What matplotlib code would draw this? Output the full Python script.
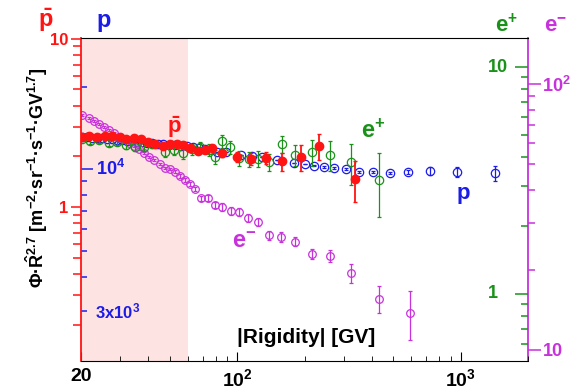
import matplotlib
matplotlib.use("Agg")
import matplotlib.pyplot as plt
from matplotlib.ticker import FixedLocator, NullFormatter

plt.rcParams['font.family'] = ['Liberation Sans', 'DejaVu Sans']
plt.rcParams['font.weight'] = 'bold'
plt.rcParams['mathtext.fontset'] = 'custom'
plt.rcParams['mathtext.rm'] = 'Liberation Sans:bold'
plt.rcParams['mathtext.it'] = 'Liberation Sans:bold'
plt.rcParams['mathtext.bf'] = 'Liberation Sans:bold'

RED = '#ff1414'
BLUE = '#1c1ce8'
GREEN = '#1a921a'
MAG = '#c832dc'
PINK = '#fde3e1'

# antiprotons (left axis)
pbar_R = [20.3, 21.7, 23.5, 25.6, 27.5, 29.8, 31.8, 34.5, 37.1, 39.9, 42.9, 46.6, 50.1, 53.8,
          57.3, 61.5, 66.8, 71.9, 77.3, 85.7, 100, 115.5, 135, 159, 192, 233, 338]
pbar_val = [2.60, 2.64, 2.60, 2.64, 2.64, 2.60, 2.53, 2.57, 2.53, 2.43, 2.37, 2.30, 2.37, 2.37,
            2.33, 2.24, 2.15, 2.18, 2.24, 2.09, 1.98, 1.93, 1.95, 1.875, 1.98, 2.30, 1.47]
pbar_err = [0.04, 0.04, 0.04, 0.04, 0.04, 0.05, 0.05, 0.05, 0.05, 0.05, 0.06, 0.06, 0.06, 0.07,
            0.07, 0.07, 0.08, 0.08, 0.08, 0.10, 0.13, 0.15, 0.16, 0.23, 0.35, 0.40, 0.40]

# protons (inner left axis)
p_R = [20.2, 21.2, 22.4, 23.5, 24.8, 26.1, 27.5, 29.0, 30.5, 32.1, 33.8, 35.6, 37.5, 39.5, 41.6,
       44.2, 46.6, 49.5, 52.7, 56.1, 59.7, 63.5, 67.6, 71.9, 76.5, 81.3, 89.3, 104, 117, 129,
       151, 180, 200, 221, 245, 272, 308, 352, 407, 481, 578, 726, 960, 1420]
p_val = [13150, 13080, 13020, 12990, 12960, 12920, 12870, 12820, 12780, 12720, 12690, 12610,
         12560, 12490, 12450, 12380, 12340, 12270, 12230, 12160, 12120, 12050, 11960, 11850,
         11760, 11560, 11540, 11260, 11170, 11070, 10790, 10520, 10430, 10260, 10170, 10090,
         10000, 9760, 9750, 9670, 9740, 9830, 9750, 9650]
p_err = [30] * 30 + [35, 40, 40, 45, 45, 50, 55, 60, 80, 110, 170, 330, 420, 600]

# positrons (inner right axis)
ep_R = [20.3, 21.9, 24.1, 26.7, 29.0, 31.8, 34.9, 38.3, 41.6, 47.6, 52.1, 57.3, 62.8, 68.2,
        74.9, 79.7, 85.7, 93.1, 102, 113, 124, 138, 159, 182, 217, 261, 324, 429]
ep_val = [4.82, 4.72, 4.77, 4.63, 4.67, 4.53, 4.44, 4.44, 4.58, 4.22, 4.31, 4.18, 4.35, 4.44,
          4.31, 4.01, 4.72, 4.44, 3.97, 3.93, 3.93, 3.81, 4.58, 4.10, 4.22, 4.10, 3.81, 3.18]
ep_err = [0.12, 0.13, 0.14, 0.15, 0.16, 0.17, 0.18, 0.19, 0.20, 0.21, 0.22, 0.23, 0.24, 0.25,
          0.26, 0.28, 0.32, 0.30, 0.30, 0.31, 0.32, 0.33, 0.40, 0.43, 0.55, 0.63, 0.78, 1.0]

# electrons (outer right axis)
em_R = [20.2, 21.7, 22.8, 24.1, 25.3, 26.7, 28.1, 29.6, 31.1, 32.8, 34.5, 36.4, 38.3, 40.3,
        42.5, 45.2, 47.6, 50.1, 52.8, 55.5, 58.5, 61.5, 64.9, 69.0, 74.2, 79.7, 85.7, 94.0,
        102, 112, 124, 139, 157, 182, 217, 261, 324, 429, 590]
em_val = [76.4, 74.5, 72.6, 70.8, 68.9, 67.1, 65.4, 63.2, 62.1, 60.0, 58.5, 57.0, 55.1, 53.2,
          51.8, 50.0, 48.3, 47.9, 46.7, 45.1, 43.6, 42.1, 40.3, 37.2, 37.2, 35.1, 34.5, 33.3,
          33.1, 31.3, 30.3, 27.0, 26.6, 25.5, 22.9, 22.6, 19.5, 15.6, 13.8]
em_err = [0.6] * 20 + [0.7, 0.7, 0.8, 0.8, 0.9, 1.0, 1.1, 1.1, 1.1, 1.1, 1.1, 1.1, 1.1, 1.0,
                       1.0, 1.1, 1.6, 1.8, 2.9]

fig = plt.figure(figsize=(5.8, 3.89), dpi=100)
ax = fig.add_axes([0.1397, 0.0720, 0.7707, 0.8303])
ax_p = ax.twinx()
ax_em = ax.twinx()
ax_ep = ax.twinx()
for z, a in enumerate([ax_p, ax_em, ax_ep, ax]):
    a.set_zorder(z + 1)
    a.patch.set_visible(False)
    a.set_yscale('log')
    for s in a.spines.values():
        s.set_visible(False)

ax.set_xscale('log')
ax.set_xlim(20, 2000)
ax.set_ylim(0.122, 10.07)
ax_p.set_ylim(1968, 30310)
ax_ep.set_ylim(0.5066, 13.42)
ax_em.set_ylim(9.09, 148.9)

ax_p.axvspan(20, 60, color=PINK, lw=0, zorder=0)

ax_p.errorbar(p_R, p_val, yerr=p_err, fmt='o', ms=6, mfc='none', mec=BLUE, mew=0.9,
              ecolor=BLUE, elinewidth=0.9, capsize=1.5)
ax_em.errorbar(em_R, em_val, yerr=em_err, fmt='o', ms=5.5, mfc='none', mec=MAG, mew=0.9,
               ecolor=MAG, elinewidth=0.9, capsize=1.5)
ax_ep.errorbar(ep_R, ep_val, yerr=ep_err, fmt='o', ms=6, mfc='none', mec=GREEN, mew=0.9,
               ecolor=GREEN, elinewidth=0.9, capsize=1.5)
ax.errorbar(pbar_R, pbar_val, yerr=pbar_err, fmt='o', ms=6, mfc=RED, mec=RED,
            ecolor=RED, elinewidth=1.3, capsize=1.5)

# frame
for side in ['top', 'bottom']:
    ax.spines[side].set_visible(True)
    ax.spines[side].set_color('black')
ax.spines['left'].set_visible(True)
ax.spines['left'].set_color(RED)
ax.spines['left'].set_linewidth(1.3)
ax_em.spines['right'].set_visible(True)
ax_em.spines['right'].set_color(MAG)
ax_em.spines['right'].set_linewidth(1.3)

# x axis
ax.set_xticks([20, 100, 1000])
ax.set_xticklabels(['20', r'$10^{2}$', r'$10^{3}$'])
ax.xaxis.set_minor_locator(FixedLocator([30, 40, 50, 60, 70, 80, 90, 200, 300, 400, 500,
                                         600, 700, 800, 900, 2000]))
ax.xaxis.set_minor_formatter(NullFormatter())
ax.tick_params(axis='x', which='both', direction='in', top=False, labelsize=14, pad=5)
ax.tick_params(axis='x', which='major', length=6.5)
ax.tick_params(axis='x', which='minor', length=3.6)
for a in [ax_p, ax_em, ax_ep]:
    a.tick_params(axis='x', which='both', bottom=False, top=False,
                  labelbottom=False, labeltop=False)

# antiproton axis
ax.set_yticks([1, 10])
ax.set_yticklabels(['1', '10'])
ax.yaxis.set_minor_locator(FixedLocator([0.2, 0.3, 0.4, 0.5, 0.6, 0.7, 0.8, 0.9,
                                         2, 3, 4, 5, 6, 7, 8, 9]))
ax.yaxis.set_minor_formatter(NullFormatter())
ax.tick_params(axis='y', which='both', direction='out', colors=RED, width=1.1,
               labelsize=12, pad=2, right=False)
ax.tick_params(axis='y', which='major', length=7)
ax.tick_params(axis='y', which='minor', length=5.5)

# proton axis (ticks inside on the left)
ax_p.yaxis.set_ticks_position('left')
ax_p.set_yticks([10000])
ax_p.yaxis.set_minor_locator(FixedLocator([3000, 4000, 5000, 6000, 7000, 8000, 9000, 20000]))
ax_p.yaxis.set_minor_formatter(NullFormatter())
ax_p.tick_params(axis='y', which='both', direction='in', colors=BLUE, width=1.1,
                 left=True, right=False, labelleft=False, labelright=False)
ax_p.tick_params(axis='y', which='major', length=8.5)
ax_p.tick_params(axis='y', which='minor', length=4.3)
ax_p.text(0.034, 10000, r'$10^{4}$', transform=ax_p.get_yaxis_transform(),
          ha='left', va='center', color=BLUE, fontsize=13)
ax_p.text(0.031, 3000, r'3x$10^{3}$', transform=ax_p.get_yaxis_transform(),
          ha='left', va='center', color=BLUE, fontsize=12)

# positron axis (ticks inside on the right)
ax_ep.set_yticks([1, 10])
ax_ep.yaxis.set_minor_locator(FixedLocator([0.6, 0.7, 0.8, 0.9, 2, 3, 4, 5, 6, 7, 8, 9]))
ax_ep.yaxis.set_minor_formatter(NullFormatter())
ax_ep.tick_params(axis='y', which='both', direction='in', colors=GREEN, width=1.1,
                  left=False, right=True, labelleft=False, labelright=False)
ax_ep.tick_params(axis='y', which='major', length=9.4)
ax_ep.tick_params(axis='y', which='minor', length=5)
for v, lab in [(1, '1'), (10, '10')]:
    ax_ep.text(0.9105, v, lab, transform=ax_ep.get_yaxis_transform(),
               ha='left', va='center', color=GREEN, fontsize=13)

# electron axis (ticks outside on the right)
ax_em.set_yticks([10, 100])
ax_em.set_yticklabels(['10', r'$10^{2}$'])
ax_em.yaxis.set_minor_locator(FixedLocator([20, 30, 40, 50, 60, 70, 80, 90]))
ax_em.yaxis.set_minor_formatter(NullFormatter())
ax_em.tick_params(axis='y', which='both', direction='out', colors=MAG, width=1.1,
                  left=False, right=True, labelleft=False, labelright=True,
                  labelsize=13, pad=1)
ax_em.tick_params(axis='y', which='major', length=9.4)
ax_em.tick_params(axis='y', which='minor', length=5)

# axis titles and species labels
fig.text(0.063, 0.542, r'$\Phi$·$\hat{R}^{2.7}$ [m$^{-2}$·sr$^{-1}$·s$^{-1}$·GV$^{1.7}$]',
         rotation=90, ha='center', va='center', fontsize=13)
ax.text(0.349, 0.074, '|Rigidity| [GV]', transform=ax.transAxes, ha='left',
        va='center', fontsize=15)

fig.text(0.079, 0.9306, r'$\bar{p}$', color=RED, ha='center', va='baseline', fontsize=17)
fig.text(0.179, 0.9306, 'p', color=BLUE, ha='center', va='baseline', fontsize=17)
fig.text(0.873, 0.918, r'e$^{+}$', color=GREEN, ha='center', va='baseline', fontsize=16)
fig.text(0.957, 0.918, r'e$^{-}$', color=MAG, ha='center', va='baseline', fontsize=16)

ax.text(0.209, 0.706, r'$\bar{p}$', color=RED, transform=ax.transAxes, ha='center',
        va='baseline', fontsize=16)
ax.text(0.653, 0.690, r'e$^{+}$', color=GREEN, transform=ax.transAxes, ha='center',
        va='baseline', fontsize=17)
ax.text(0.855, 0.5015, 'p', color=BLUE, transform=ax.transAxes, ha='center',
        va='baseline', fontsize=16)
ax.text(0.364, 0.347, r'e$^{-}$', color=MAG, transform=ax.transAxes, ha='center',
        va='baseline', fontsize=17)

fig.savefig('out.png', dpi=100, facecolor='white')
